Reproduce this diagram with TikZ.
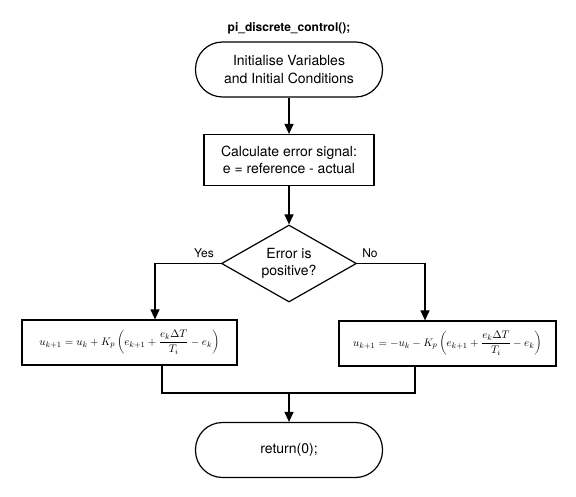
\documentclass[tikz,border=0pt]{standalone}
\usepackage{fontspec}
\setmainfont{TeX Gyre Heros}
\usetikzlibrary{shapes.geometric,arrows.meta}
\begin{document}
\begin{tikzpicture}[x=1pt,y=-1pt,line width=1.2pt,
  every node/.style={font=\fontsize{14}{17.5}\selectfont,align=center},
  lbl/.style={font=\fontsize{12}{14}\selectfont},
  term/.style={draw,rounded corners=27pt,minimum width=187pt,minimum height=55pt},
  proc/.style={draw,minimum width=170pt,minimum height=51pt},
  calcbox/.style={draw,minimum height=45pt,font=\fontsize{11}{13}\selectfont},
  dec/.style={draw,diamond,aspect=1.75,inner sep=0pt,minimum width=135pt,minimum height=77pt},
  arr/.style={-{Triangle[length=10pt,width=9pt]}}]
 \useasboundingbox (0,0) rectangle (576,497);
 % boxes
 \node[font=\bfseries\fontsize{12}{14}\selectfont] (title) at (289,28) {pi\_discrete\_control();};
 \node[term] (init) at (289,69.5) {Initialise Variables\\and Initial Conditions};
 \node[proc] (err) at (289,160) {Calculate error signal:\\e = reference - actual};
 \node[dec] (sign) at (289,263.5) {Error is\\positive?};
 \node[lbl] (yes) at (204,253) {Yes};
 \node[lbl] (no) at (370,253) {No};
 \node[calcbox,minimum width=215pt] (pos) at (129.5,342.5)
   {$\displaystyle u_{k+1}=u_k+K_p\left(e_{k+1}+\frac{e_k\Delta T}{T_i}-e_k\right)$};
 \node[calcbox,minimum width=217pt] (neg) at (447.5,343.5)
   {$\displaystyle u_{k+1}=-u_k-K_p\left(e_{k+1}+\frac{e_k\Delta T}{T_i}-e_k\right)$};
 \node[term] (ret) at (289,450) {return(0);};
 \coordinate (merge) at (289,393);
 % connectors
 \draw[arr] (init) -- (err);
 \draw[arr] (err) -- (sign);
 \draw[arr] (sign.west) -| ([xshift=25.5pt]pos.north);
 \draw[arr] (sign.east) -| ([xshift=-22.5pt]neg.north);
 \draw ([xshift=32.5pt]pos.south) |- (merge) -| ([xshift=-32.5pt]neg.south);
 \draw[arr] (merge) -- (ret);
\end{tikzpicture}
\end{document}
